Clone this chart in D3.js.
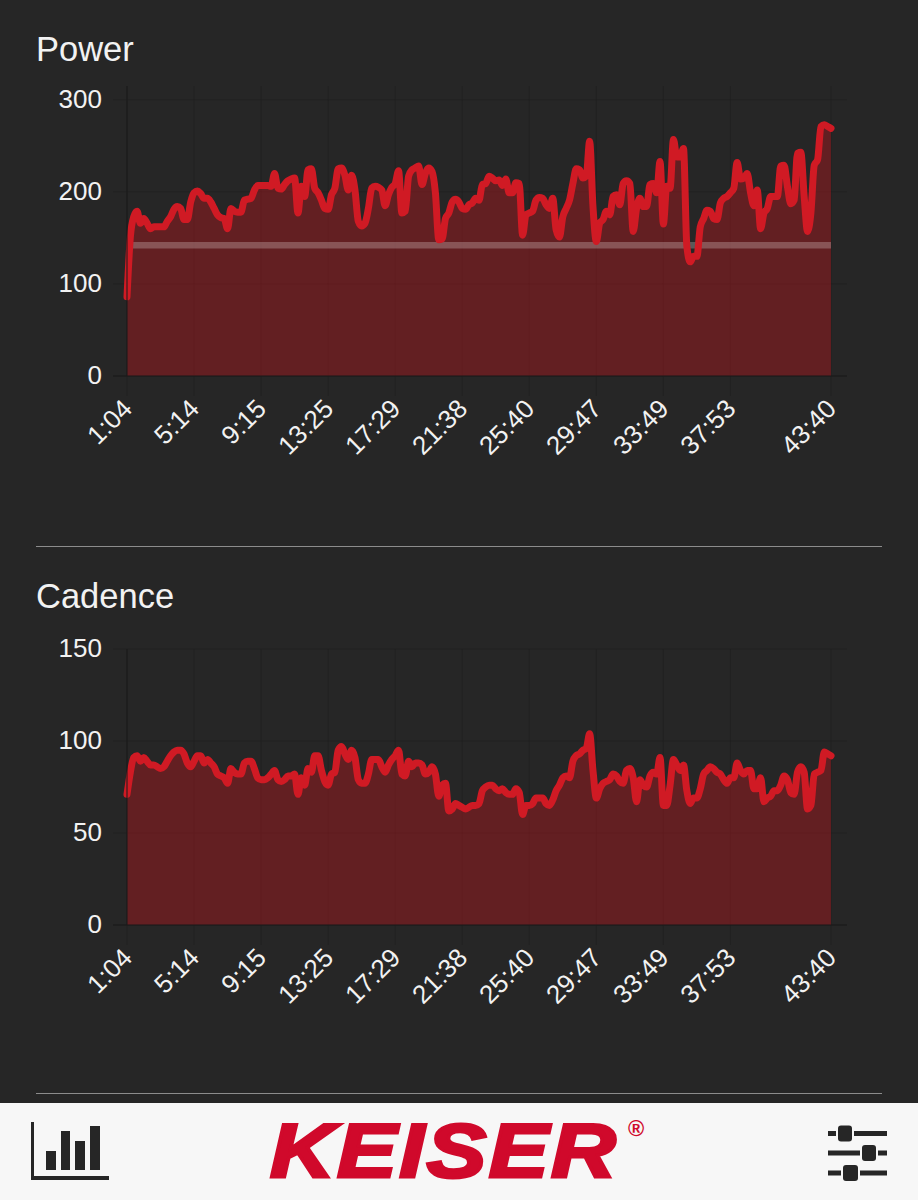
<!DOCTYPE html>
<html>
<head>
<meta charset="utf-8">
<script src="https://cdn.jsdelivr.net/npm/d3@7"></script>
<style>
html, body { margin: 0; padding: 0; background: #262626; }
text { font-family: "Liberation Sans", Arial, sans-serif; }
.title { font-size: 34.5px; fill: #f2f2f2; }
.axis text { font-size: 26px; fill: #f2f2f2; }
.axis path, .axis line { stroke: #1b1b1b; }
.grid line { stroke: #1f1f1f; stroke-width: 1; opacity: 0.6; }
.line { fill: none; stroke: #d01a24; stroke-width: 7; stroke-linejoin: round; stroke-linecap: round; }
.area { fill: #c8141e; fill-opacity: 0.38; }
.avg { stroke: #fff; stroke-opacity: 0.24; stroke-width: 6.5; }
</style>
</head>
<body>
<script>
var tickLabels = ["1:04", "5:14", "9:15", "13:25", "17:29", "21:38", "25:40", "29:47", "33:49", "37:53", "43:40"];
var tickIndex = [0, 20, 40, 60, 80, 100, 120, 140, 160, 180, 210];

var powerValues = [86,151,173,179,166,171,166,160,162,162,162,162,168,173,181,184,182,170,170,189,
    199,201,198,193,193,189,182,175,172,171,160,182,179,178,178,191,192,193,202,207,
    207,207,207,206,220,204,203,208,212,214,215,177,206,195,224,225,204,199,191,182,
    181,197,204,225,226,218,202,218,202,168,163,166,182,204,206,205,202,185,197,205,
    209,223,177,179,217,224,226,228,208,220,226,222,199,148,149,171,177,189,192,189,
    182,181,186,188,193,191,208,209,217,215,212,213,207,214,199,199,210,209,153,175,
    177,179,191,194,193,186,182,193,159,151,173,182,191,209,225,224,215,217,255,184,
    146,166,170,179,175,195,197,186,209,212,209,157,182,193,184,184,208,209,199,233,
    165,206,204,257,238,238,247,141,124,130,130,162,171,180,179,171,170,188,193,195,
    199,204,232,214,215,220,199,185,202,160,177,182,195,195,195,228,229,206,187,191,
    242,243,195,157,177,229,235,271,273,271,269];
var cadenceValues = [71,83,91,92,89,91,89,87,87,86,85,86,89,92,94,95,95,93,88,86,
    89,92,92,88,90,88,86,82,81,80,77,85,83,82,82,88,89,89,85,80,
    79,79,80,82,84,79,78,79,81,81,82,71,80,76,85,83,92,92,84,78,
    76,82,83,95,97,93,90,95,91,79,77,77,82,90,90,90,86,83,87,90,
    92,95,82,81,89,86,88,88,87,82,83,86,82,70,76,77,62,63,66,65,
    64,63,64,65,65,66,73,75,76,76,74,73,74,72,71,71,74,72,60,65,
    65,66,69,69,69,66,65,68,73,76,80,81,80,89,92,93,95,96,104,84,
    69,74,77,78,79,82,81,78,77,84,85,80,67,79,76,75,81,83,82,91,
    65,65,76,90,87,84,87,73,66,69,69,74,82,84,86,85,83,82,79,77,
    80,80,88,84,82,84,84,74,74,80,67,69,70,73,73,76,81,79,72,71,
    83,86,83,63,65,82,83,84,94,93,92];

var powerAvg = 142;
var powerTicks = [0, 100, 200, 300];
var cadenceTicks = [0, 50, 100, 150];

var width = 918, height = 1200;
var plot = {left: 127, right: 831, gridLeft: 113, gridRight: 847};

var svg = d3.select("body").append("svg")
    .attr("width", width)
    .attr("height", height)
    .style("display", "block");

svg.append("rect")
    .attr("width", width)
    .attr("height", height)
    .attr("fill", "#262626");

var x = d3.scaleLinear()
    .domain([0, 210])
    .range([plot.left, plot.right]);

function drawChart(title, titleY, values, yTicks, yMax, top, bottom, avg) {
    var y = d3.scaleLinear()
        .domain([0, yMax])
        .range([bottom, top]);

    svg.append("text")
        .attr("class", "title")
        .attr("x", 36)
        .attr("y", titleY)
        .text(title);

    var grid = svg.append("g").attr("class", "grid");
    grid.selectAll(".h")
        .data(yTicks)
        .enter()
        .append("line")
        .attr("x1", plot.gridLeft)
        .attr("x2", plot.gridRight)
        .attr("y1", d => y(d))
        .attr("y2", d => y(d));
    grid.selectAll(".v")
        .data(tickIndex)
        .enter()
        .append("line")
        .attr("x1", d => x(d))
        .attr("x2", d => x(d))
        .attr("y1", top)
        .attr("y2", bottom + 20);

    var area = d3.area()
        .x((d, i) => x(i))
        .y0(bottom)
        .y1(d => y(d))
        .curve(d3.curveMonotoneX);
    var line = d3.line()
        .x((d, i) => x(i))
        .y(d => y(d))
        .curve(d3.curveMonotoneX);

    svg.append("path")
        .attr("class", "area")
        .attr("d", area(values));

    if (avg != null) {
        svg.append("line")
            .attr("class", "avg")
            .attr("x1", plot.left)
            .attr("x2", plot.right)
            .attr("y1", y(avg))
            .attr("y2", y(avg));
    }

    svg.append("path")
        .attr("class", "line")
        .attr("d", line(values));

    var yAxis = svg.append("g")
        .attr("class", "axis")
        .attr("transform", "translate(" + plot.left + ",0)")
        .call(d3.axisLeft(y).tickValues(yTicks).tickSize(0).tickPadding(25));
    yAxis.select(".domain").attr("d", "M0," + top + "V" + bottom);
    yAxis.selectAll("text").attr("dy", "0.3em");

    var xAxis = svg.append("g")
        .attr("class", "axis")
        .attr("transform", "translate(0," + bottom + ")")
        .call(d3.axisBottom(x)
            .tickValues(tickIndex)
            .tickFormat((d, i) => tickLabels[i])
            .tickSize(0));
    xAxis.select(".domain").attr("d", "M" + plot.gridLeft + ",0H" + plot.gridRight);
    xAxis.selectAll("text")
        .attr("text-anchor", "end")
        .attr("dy", "0.34em")
        .attr("transform", "translate(0,28) rotate(-45)")
        .attr("y", 0);
}

drawChart("Power", 61, powerValues, powerTicks, 315, 86, 376, powerAvg);
drawChart("Cadence", 608, cadenceValues, cadenceTicks, 150, 649, 925, null);

// separators
svg.selectAll(".sep")
    .data([546.5, 1093.5])
    .enter()
    .append("line")
    .attr("x1", 36)
    .attr("x2", 882)
    .attr("y1", d => d)
    .attr("y2", d => d)
    .attr("stroke", "#8c8c8c");

// footer bar
var footer = svg.append("g");
footer.append("rect")
    .attr("y", 1103)
    .attr("width", width)
    .attr("height", 97)
    .attr("fill", "#f7f7f7");

// chart icon
var iconDark = "#262626";
[[31, 1122, 3, 58], [31, 1176, 78, 4], [46, 1151, 10, 19], [61, 1131, 9, 39], [75, 1141, 10, 29], [90, 1126, 10, 44]]
    .forEach(function(r) {
        footer.append("rect")
            .attr("x", r[0]).attr("y", r[1])
            .attr("width", r[2]).attr("height", r[3])
            .attr("fill", iconDark);
    });

// logo
footer.append("text")
    .attr("transform", "translate(270,1177) scale(1.18,1)")
    .attr("font-size", 76)
    .attr("font-weight", "bold")
    .attr("font-style", "italic")
    .attr("letter-spacing", 2)
    .attr("fill", "#d0092b")
    .attr("stroke", "#d0092b")
    .attr("stroke-width", 3)
    .text("KEISER");
footer.append("text")
    .attr("x", 628)
    .attr("y", 1136)
    .attr("font-size", 22)
    .attr("font-weight", "bold")
    .attr("fill", "#d0092b")
    .text("®");

// sliders icon
[[1133.5, 838, 852], [1153, 862, 876], [1173, 843, 858]].forEach(function(s) {
    footer.append("rect")
        .attr("x", 828).attr("y", s[0] - 2.5)
        .attr("width", 59).attr("height", 5)
        .attr("fill", iconDark);
    footer.append("rect")
        .attr("x", s[1] - 2).attr("y", s[0] - 9)
        .attr("width", s[2] - s[1] + 4).attr("height", 18)
        .attr("fill", "#f7f7f7");
    footer.append("rect")
        .attr("x", s[1]).attr("y", s[0] - 8)
        .attr("width", s[2] - s[1]).attr("height", 16)
        .attr("rx", 3)
        .attr("fill", iconDark);
});
</script>
</body>
</html>
